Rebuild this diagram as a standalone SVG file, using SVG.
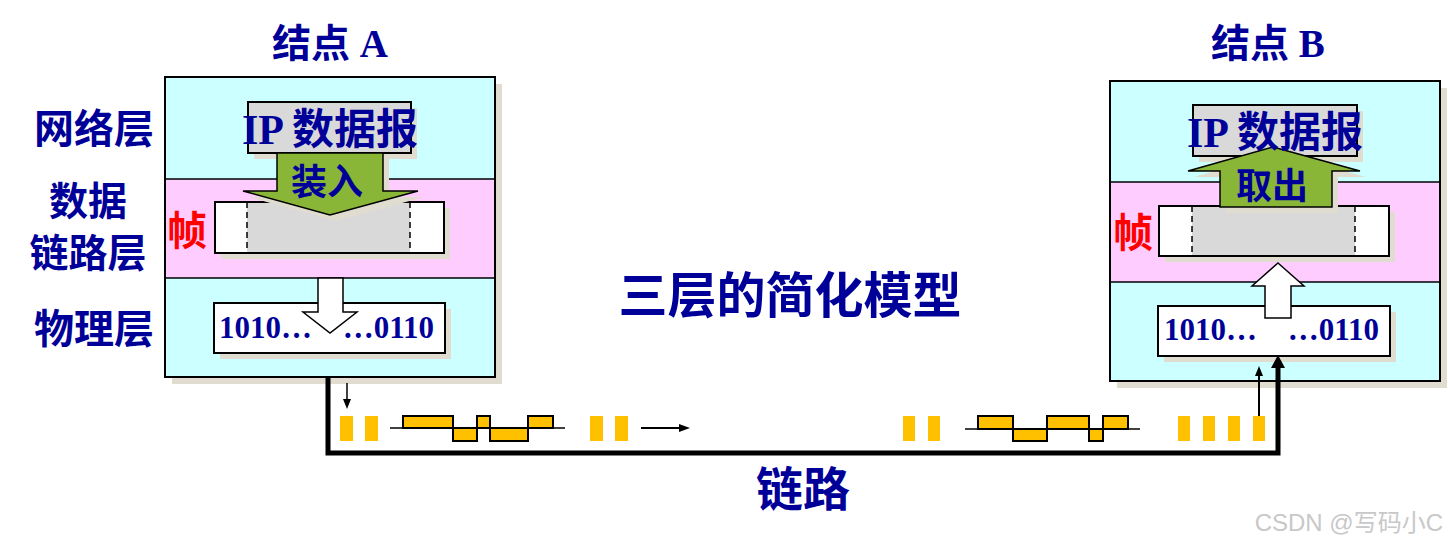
<svg xmlns="http://www.w3.org/2000/svg" width="1448" height="548" viewBox="0 0 1448 548">
<style>
.cn{font-family:"Noto Sans CJK SC",sans-serif;font-weight:bold;fill:#000099}
.mix{font-family:"Liberation Serif","Noto Sans CJK SC",serif;font-weight:bold;fill:#000099}
.red{font-family:"Noto Sans CJK SC",sans-serif;font-weight:bold;fill:#ff0000}
.sh{fill:#e0dccf}
.cy{fill:#ccffff}
.pk{fill:#ffccff}
.ol{fill:none;stroke:#000;stroke-width:2}
.bx{fill:#fff;stroke:#000;stroke-width:2}
.gr{fill:#d9d9d9}
.ip{fill:#d9d9d9;stroke:#000;stroke-width:2}
.dash{stroke:#000;stroke-width:1.5;stroke-dasharray:6,4}
.ln{stroke:#000;stroke-width:1.5}
.ga{fill:#8ab638;stroke:#000;stroke-width:1.5}
.wa{fill:#fff;stroke:#000;stroke-width:1.5}
.bits{font-family:"Liberation Serif",serif;font-weight:bold;font-size:31px;fill:#000099}
.yb{fill:#ffc000}
.wave{fill:#ffc000;stroke:#000;stroke-width:2}
</style>
<rect width="1448" height="548" fill="#fff"/>

<g id="labels">
<text class="mix" x="330" y="57" font-size="39" text-anchor="middle">结点 A</text>
<text class="mix" x="1268" y="57" font-size="39" text-anchor="middle">结点 B</text>
<text class="cn" x="94" y="143" font-size="40" text-anchor="middle">网络层</text>
<text class="cn" x="88" y="215" font-size="39" text-anchor="middle">数据</text>
<text class="cn" x="88" y="267" font-size="39" text-anchor="middle">链路层</text>
<text class="cn" x="94" y="343" font-size="40" text-anchor="middle">物理层</text>
<text class="cn" x="790" y="313" font-size="49" text-anchor="middle">三层的简化模型</text>
<text class="cn" x="803" y="506" font-size="47" text-anchor="middle">链路</text>
<text x="1443" y="531" font-size="24" text-anchor="end" fill="#c8c8c8" font-family="Liberation Sans,'Noto Sans CJK SC',sans-serif">CSDN @写码小C</text>
</g>

<g id="nodeA">
<rect class="sh" x="172" y="84" width="330" height="300"/>
<rect class="cy" x="165" y="77" width="330" height="102"/>
<rect class="pk" x="165" y="179" width="330" height="99"/>
<rect class="cy" x="165" y="278" width="330" height="99"/>
<line class="ln" x1="165" y1="179" x2="495" y2="179"/>
<line class="ln" x1="165" y1="278" x2="495" y2="278"/>
<rect class="ol" x="165" y="77" width="330" height="300"/>
<rect class="sh" x="254" y="108" width="163" height="51"/>
<rect class="ip" x="248" y="102" width="163" height="51"/>
<rect class="sh" x="221" y="208" width="229" height="51"/>
<rect class="bx" x="215" y="202" width="229" height="51"/>
<rect class="gr" x="247" y="203" width="163" height="49"/>
<line class="dash" x1="247" y1="202" x2="247" y2="253"/>
<line class="dash" x1="410" y1="202" x2="410" y2="253"/>
<polygon class="sh" points="283,159 389,159 389,197 424,197 336,221 249,197 283,197"/>
<polygon class="ga" points="277,153 383,153 383,191 418,191 330,215 243,191 277,191"/>
<text class="mix" x="330" y="144" font-size="42" text-anchor="middle">IP 数据报</text>
<text class="cn" x="327" y="195" font-size="36" text-anchor="middle">装入</text>
<text class="red" x="187" y="245" font-size="40" text-anchor="middle">帧</text>
<rect class="sh" x="220" y="309" width="231" height="50"/>
<rect class="bx" x="214" y="303" width="231" height="50"/>
<polygon class="wa" points="318,278 343,278 343,312 357,312 330,333 303,312 318,312"/>
<text class="bits" x="219" y="338">1010…</text>
<text class="bits" x="434" y="338" text-anchor="end">…0110</text>
</g>

<g id="nodeB">
<rect class="sh" x="1117" y="88" width="330" height="300"/>
<rect class="cy" x="1110" y="81" width="330" height="101"/>
<rect class="pk" x="1110" y="182" width="330" height="100"/>
<rect class="cy" x="1110" y="282" width="330" height="99"/>
<line class="ln" x1="1110" y1="182" x2="1440" y2="182"/>
<line class="ln" x1="1110" y1="282" x2="1440" y2="282"/>
<rect class="ol" x="1110" y="81" width="330" height="300"/>
<rect class="sh" x="1199" y="111" width="164" height="51"/>
<rect class="ip" x="1193" y="105" width="164" height="51"/>
<rect class="sh" x="1165" y="212" width="230" height="50"/>
<rect class="bx" x="1159" y="206" width="230" height="50"/>
<rect class="gr" x="1192" y="207" width="163" height="48"/>
<line class="dash" x1="1192" y1="206" x2="1192" y2="256"/>
<line class="dash" x1="1355" y1="206" x2="1355" y2="256"/>
<polygon class="sh" points="1279,153 1366,177 1338,177 1338,213 1226,213 1226,177 1194,177"/>
<polygon class="ga" points="1273,147 1360,171 1332,171 1332,207 1220,207 1220,171 1188,171"/>
<text class="mix" x="1275" y="147" font-size="42" text-anchor="middle">IP 数据报</text>
<text class="cn" x="1272" y="199" font-size="36" text-anchor="middle">取出</text>
<text class="red" x="1133" y="247" font-size="40" text-anchor="middle">帧</text>
<rect class="sh" x="1164" y="312" width="232" height="50"/>
<rect class="bx" x="1158" y="306" width="232" height="50"/>
<polygon class="wa" points="1278,263 1304,286 1291,286 1291,318 1265,318 1265,286 1252,286"/>
<text class="bits" x="1164" y="340">1010…</text>
<text class="bits" x="1379" y="340" text-anchor="end">…0110</text>
</g>

<g id="signals">
<rect class="yb" x="340" y="416" width="13" height="25"/>
<rect class="yb" x="365" y="416" width="13" height="25"/>
<rect class="yb" x="590" y="416" width="13" height="25"/>
<rect class="yb" x="615" y="416" width="13" height="25"/>
<rect class="yb" x="903" y="416" width="12" height="25"/>
<rect class="yb" x="928" y="416" width="12" height="25"/>
<rect class="yb" x="1178" y="416" width="12" height="25"/>
<rect class="yb" x="1203" y="416" width="12" height="25"/>
<rect class="yb" x="1228" y="416" width="12" height="25"/>
<rect class="yb" x="1253" y="416" width="12" height="25"/>
<rect class="wave" x="403" y="416" width="50" height="12"/>
<rect class="wave" x="453" y="428" width="24" height="13"/>
<rect class="wave" x="477" y="416" width="13" height="12"/>
<rect class="wave" x="490" y="428" width="38" height="13"/>
<rect class="wave" x="528" y="416" width="25" height="12"/>
<line class="ln" x1="390" y1="428" x2="565" y2="428" stroke-width="2"/>
<rect class="wave" x="978" y="416" width="35" height="13"/>
<rect class="wave" x="1013" y="429" width="34" height="12"/>
<rect class="wave" x="1047" y="416" width="42" height="13"/>
<rect class="wave" x="1089" y="429" width="14" height="12"/>
<rect class="wave" x="1103" y="416" width="25" height="13"/>
<line class="ln" x1="965" y1="429" x2="1140" y2="429" stroke-width="2"/>
</g>

<g id="connectors">
<path d="M328,377 V453 H1278 V366" fill="none" stroke="#000" stroke-width="5"/>
<polygon points="1271,368 1285,368 1278,355" fill="#000"/>
<line x1="347" y1="383" x2="347" y2="400" stroke="#000" stroke-width="1.5"/>
<polygon points="343,399 351,399 347,409" fill="#000"/>
<line x1="1259" y1="416" x2="1259" y2="374" stroke="#000" stroke-width="2"/>
<polygon points="1255,376 1263,376 1259,366" fill="#000"/>
<line x1="641" y1="428" x2="681" y2="428" stroke="#000" stroke-width="2"/>
<polygon points="679,424 679,432 690,428" fill="#000"/>
</g>
</svg>
